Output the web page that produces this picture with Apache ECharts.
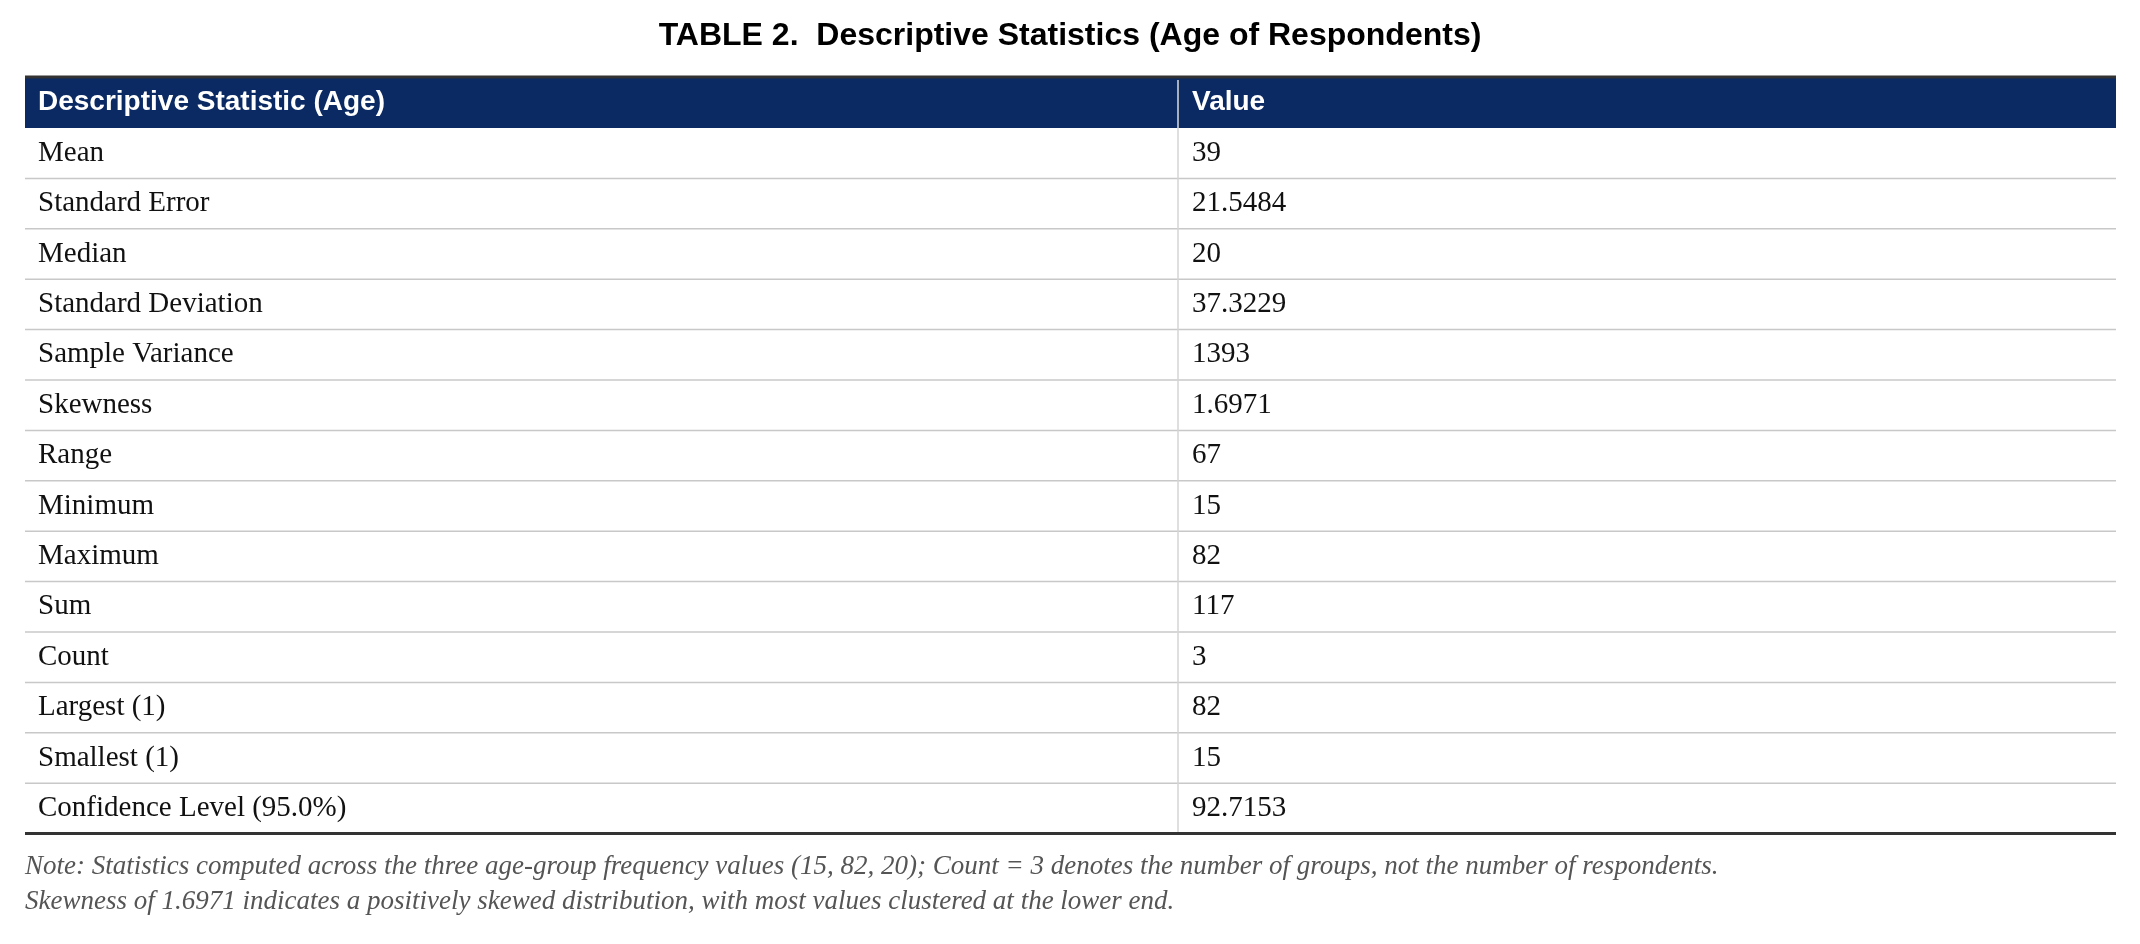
<!DOCTYPE html>
<html><head><meta charset="utf-8">
<script src="https://cdn.jsdelivr.net/npm/echarts@6/dist/echarts.min.js"></script>
<style>html,body{margin:0;padding:0;background:#fff}#c{width:2140px;height:944px}</style>
</head><body><div id="c"></div>
<script>
const title = "TABLE 2.  Descriptive Statistics (Age of Respondents)";
const headers = ["Descriptive Statistic (Age)", "Value"];
const statistics = ["Mean","Standard Error","Median","Standard Deviation","Sample Variance","Skewness","Range","Minimum","Maximum","Sum","Count","Largest (1)","Smallest (1)","Confidence Level (95.0%)"];
const values = ["39","21.5484","20","37.3229","1393","1.6971","67","15","82","117","3","82","15","92.7153"];
const notes = ["Note: Statistics computed across the three age-group frequency values (15, 82, 20); Count = 3 denotes the number of groups, not the number of respondents.",
"Skewness of 1.6971 indicates a positively skewed distribution, with most values clustered at the lower end."];

const L=25, R=2116, D=1178, HT=77, HB=128, RH=50.4;
const els=[];
els.push({type:'text',left:'center',top:20,style:{text:title,font:'bold 32px "Liberation Sans", Arial',fill:'#000'}});
els.push({type:'rect',shape:{x:L,y:HT,width:R-L,height:HB-HT},style:{fill:'#0b2a63'}});
els.push({type:'line',shape:{x1:L,y1:HT,x2:R,y2:HT},style:{stroke:'#333',lineWidth:3}});
els.push({type:'line',shape:{x1:D,y1:HT+3,x2:D,y2:HB},style:{stroke:'#ddd',lineWidth:1.5}});
els.push({type:'text',x:L+13,y:(HT+HB)/2,style:{text:headers[0],font:'bold 28px "Liberation Sans", Arial',fill:'#fff',verticalAlign:'middle'}});
els.push({type:'text',x:D+14,y:(HT+HB)/2,style:{text:headers[1],font:'bold 28px "Liberation Sans", Arial',fill:'#fff',verticalAlign:'middle'}});
statistics.forEach((s,i)=>{
  const y0=HB+i*RH, ym=y0+RH/2;
  els.push({type:'text',x:L+13,y:ym,style:{text:s,font:'29px "Liberation Serif", serif',fill:'#111',verticalAlign:'middle'}});
  els.push({type:'text',x:D+14,y:ym,style:{text:values[i],font:'29px "Liberation Serif", serif',fill:'#111',verticalAlign:'middle'}});
  if(i<statistics.length-1) els.push({type:'line',shape:{x1:L,y1:y0+RH,x2:R,y2:y0+RH},style:{stroke:'#c8c8c8',lineWidth:1.5}});
});
const TB=HB+statistics.length*RH;
els.push({type:'line',shape:{x1:D,y1:HB,x2:D,y2:TB},style:{stroke:'#d5d5d5',lineWidth:1.5}});
els.push({type:'line',shape:{x1:L,y1:TB,x2:R,y2:TB},style:{stroke:'#333',lineWidth:3}});
notes.forEach((n,i)=>els.push({type:'text',x:L,y:867+i*35,style:{text:n,font:'italic 27px "Liberation Serif", serif',fill:'#555',verticalAlign:'middle'}}));
const chart=echarts.init(document.getElementById('c'));
chart.setOption({animation:false,graphic:{elements:els}});
</script></body></html>
